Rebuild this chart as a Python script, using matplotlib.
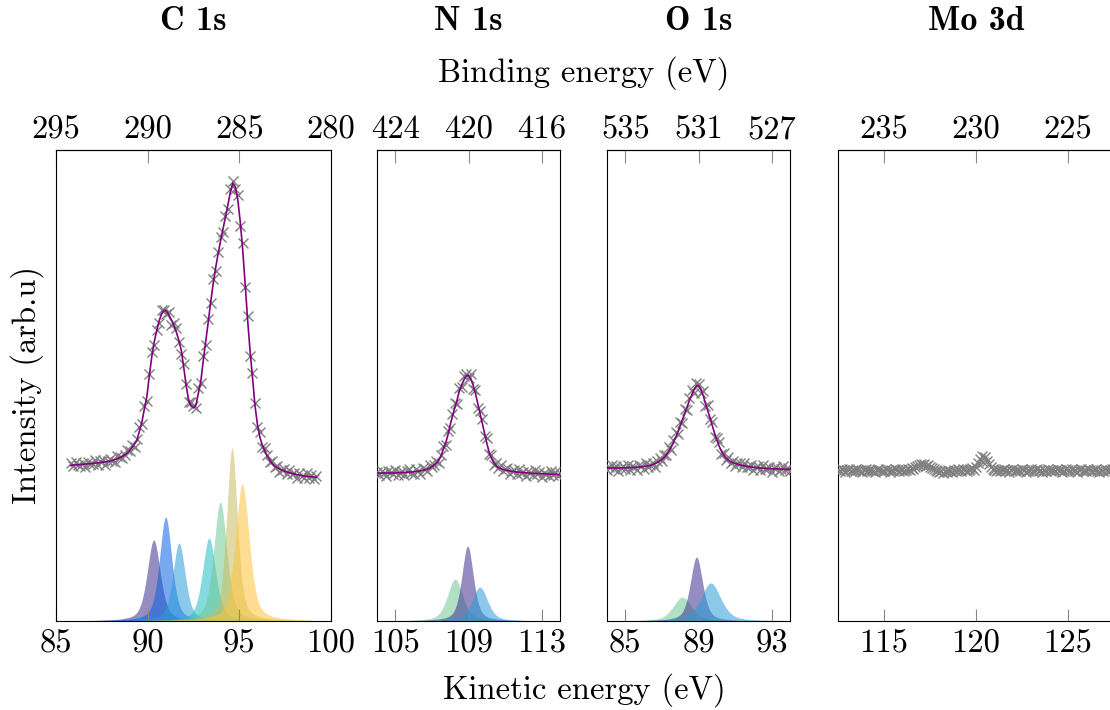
import numpy as np
import matplotlib
matplotlib.use("Agg")
import matplotlib.pyplot as plt

plt.rcParams['font.family'] = ['cmr10', 'DejaVu Serif']
plt.rcParams['axes.unicode_minus'] = False

# ---- C 1s ----
c1s_range = (85.8, 99.2)
c1s_fit = [155.5, 156, 156, 156.3, 156.5, 156.7, 157, 157.2, 157.4, 157.6,
           157.9, 158.2, 158.5, 158.8, 159.1, 159.5, 160, 160.6, 161.3, 162.2,
           163.3, 164.5, 166, 168, 170.5, 173.5, 177, 181, 190, 199,
           212, 224, 245, 264, 279, 290, 300, 307, 310.5, 310,
           306, 301, 296, 289, 281, 271, 254, 236, 221, 215,
           213, 216, 228, 240, 261, 280, 299, 319, 337, 353,
           367, 380, 392, 404, 416, 429, 438, 434, 422, 400,
           372, 338, 302, 271, 244, 216, 197, 184, 176, 170,
           165, 161, 157.5, 155, 153.5, 152, 151, 150, 149, 148.3,
           147.7, 147, 146.5, 146, 145.5, 145, 144.7, 144.4, 144.2, 144,
           143.8]
c1s_data = [158, 155, 159, 156, 155, 158, 154, 159, 157, 157,
            161, 156, 160, 161, 156, 160, 162, 160, 159, 165,
            164, 163, 166, 171, 170, 176, 174, 182, 194, 197,
            215, 220, 247, 269, 276, 291, 298, 311, 311, 307,
            309, 296, 298, 293, 279, 267, 257, 237, 219, 219,
            215, 213, 233, 238, 265, 276, 302, 318, 342, 350,
            369, 384, 389, 405, 412, 432, 440, 432, 426, 395,
            378, 334, 305, 265, 248, 218, 194, 189, 174, 173,
            166, 159, 160, 154, 155, 149, 151, 152, 147, 151,
            147, 148, 143, 148, 145, 143, 148, 143, 146, 142,
            145]
# components: centre (kinetic energy), height, FWHM
c1s_pos = [90.33, 90.98, 91.71, 93.35, 93.96, 94.60, 95.16]
c1s_amp = [81, 104, 78, 83, 119, 173, 137]
c1s_fwhm = [0.85, 0.8, 0.8, 0.85, 0.85, 0.7, 0.9]

# ---- N 1s ----
n1s_range = (104.0, 114.0)
n1s_fit = [148, 148, 148, 148, 148, 148, 148, 148, 148, 148.2,
           148.3, 148.4, 148.6, 148.7, 148.9, 149, 149.2, 149.5, 149.8, 150.2,
           150.6, 151.2, 151.8, 153, 154.5, 156, 157.7, 161, 165, 172,
           178, 186, 196, 205, 213, 221, 230, 236, 241, 245,
           246, 242, 236, 228, 218, 208, 198, 188, 178, 169,
           163, 158.5, 155.5, 153.5, 152.5, 151.7, 151, 150.5, 150, 149.6,
           149.3, 149, 148.8, 148.6, 148.4, 148.2, 148, 147.8, 147.7, 147.6,
           147.5, 147.4, 147.3, 147.2, 147.1, 147, 146.9, 146.8, 146.7, 146.6,
           146.5]
n1s_data = [149, 146, 150, 148, 145, 150, 149, 147, 151, 146,
            148, 150, 146, 150, 152, 148, 147, 152, 150, 147,
            153, 152, 150, 156, 154, 156, 160, 158, 166, 175,
            176, 190, 193, 207, 218, 217, 233, 234, 245, 247,
            243, 247, 232, 231, 213, 210, 202, 185, 183, 167,
            166, 156, 158, 153, 156, 150, 152, 153, 147, 150,
            151, 147, 152, 148, 149, 145, 150, 148, 146, 151,
            147, 149, 144, 148, 147, 145, 150, 146, 149, 145,
            148]
n1s_pos = [108.27, 108.95, 109.62]
n1s_amp = [42, 75, 34]
n1s_fwhm = [1.0, 0.75, 1.0]

# ---- O 1s ----
o1s_range = (84.0, 94.0)
o1s_fit = [153, 153, 153, 153, 153, 153, 153, 153, 153.2, 153.3,
           153.4, 153.5, 153.6, 153.7, 153.9, 154.1, 154.4, 154.7, 155.1, 155.6,
           156.5, 157.4, 158.5, 159.8, 161.5, 163.5, 166.5, 170, 173.5, 178.5,
           183.5, 189, 195.5, 201.5, 207.5, 214, 220.5, 226, 231, 235,
           235.5, 231.5, 226, 218, 210.5, 203.5, 195.5, 188, 181, 175,
           170, 166, 163, 160.7, 159.3, 158.3, 157.5, 156.8, 156.2, 155.6,
           155.1, 154.7, 154.3, 154, 153.7, 153.4, 153.2, 153, 152.8, 152.6,
           152.5, 152.4, 152.3, 152.2, 152.1, 152, 151.9, 151.8, 151.7, 151.6,
           151.5]
o1s_data = [151, 154, 156, 152, 155, 150, 153, 155, 152, 156,
            151, 155, 154, 151, 156, 155, 152, 158, 154, 156,
            158, 154, 160, 163, 160, 166, 166, 174, 171, 181,
            189, 187, 199, 198, 212, 211, 223, 231, 228, 238,
            237, 228, 230, 215, 216, 202, 199, 184, 183, 179,
            167, 168, 161, 164, 158, 160, 155, 158, 158, 154,
            158, 154, 154, 156, 151, 154, 155, 151, 156, 152,
            152, 154, 149, 153, 154, 150, 152, 155, 151, 153,
            150]
o1s_pos = [88.12, 88.89, 89.67]
o1s_amp = [24, 64, 38]
o1s_fwhm = [1.2, 0.8, 1.3]

# ---- Mo 3d ----
mo_range = (112.5, 127.5)
mo_data = [151, 150, 152, 151, 149, 151, 152, 150, 151, 150,
           152, 151, 150, 149, 151, 152, 150, 151, 151, 150,
           149, 151, 152, 151, 150, 150, 152, 151, 149, 151,
           150, 152, 151, 150, 151, 152, 150, 151, 152, 151,
           153, 152, 154, 155, 156, 157, 156, 157, 155, 156, 154, 153, 152,
           151, 150, 149, 150, 148, 150, 149, 151, 150, 149,
           151, 150, 152, 151, 150, 152, 151, 150,
           151, 152, 153, 151, 154, 158, 162,
           165, 159, 164, 160,
           157, 154, 152, 151, 150, 151,
           150, 151, 152, 150, 151, 149, 151, 152, 150, 151,
           151, 150, 152, 151, 149, 150, 151, 152, 150, 151,
           152, 150, 151, 149, 151, 150, 152, 151, 150, 151,
           150, 152, 151, 151, 149, 150, 152, 151, 150, 152,
           151, 150, 149, 151, 152, 150, 151, 150, 152, 151,
           150, 151, 152, 150, 149, 151, 150, 152, 151, 150,
           151, 152, 150]

c1s_cols = ['#3f2f8f', '#0a62e0', '#2c9cd8', '#21bcc3', '#6fc996', '#c8bd60', '#ffc33a']
three_cols = ['#6fc996', '#3f2f8f', '#2c9cd8']

titles = ['C 1s', 'N 1s', 'O 1s', 'Mo 3d']
hv = [380, 529, 620, 350]
kticks = [[85, 90, 95, 100], [105, 109, 113], [85, 89, 93], [115, 120, 125]]
bticks = [[295, 290, 285, 280], [424, 420, 416], [535, 531, 527], [235, 230, 225]]
xlims = [(85, 100), (104, 114), (84, 94), (112.5, 127.5)]


def pvoigt(x, c, h, w, eta=0.5):
    u = 4 * (x - c) ** 2 / w ** 2
    return h * ((1 - eta) * np.exp(-np.log(2) * u) + eta / (1 + u))


def draw_components(ax, x, pos, amp, fwhm, cols):
    for c, h, w, col in zip(pos, amp, fwhm, cols):
        ax.fill_between(x, 0, pvoigt(x, c, h, w), color=col, alpha=0.55, lw=0)


def draw_spectrum(ax, rng, data, fit=None):
    x = np.linspace(rng[0], rng[1], len(data))
    ax.plot(x, data, ls='none', marker='x', ms=7, mew=1.0, color='#808080', zorder=3)
    if fit is not None:
        ax.plot(x, fit, color='#800080', lw=1.2, zorder=4)


fs = 23.5
fig = plt.figure(figsize=(11.1, 7.1), dpi=100)
boxes = [(56, 331), (377, 560), (607, 790), (838, 1114)]
axes = []
for i, (l, r) in enumerate(boxes):
    ax = fig.add_axes([l / 1110, 89 / 710, (r - l) / 1110, 471 / 710])
    ax.set_xlim(*xlims[i])
    ax.set_ylim(0, 471)
    ax.set_yticks([])
    ax.set_xticks(kticks[i])
    ax.tick_params(axis='x', direction='in', length=9, width=0.8, color='#888888',
                   labelsize=fs, pad=6)
    h = hv[i]
    sec = ax.secondary_xaxis('top', functions=(lambda k, h=h: h - k, lambda b, h=h: h - b))
    sec.set_xticks(bticks[i])
    sec.tick_params(direction='in', length=9, width=0.8, color='#888888', labelsize=fs, pad=4)
    fig.text((l + r) / 2 / 1110, 1 - 22 / 710, titles[i], ha='center', va='center',
             fontsize=24.5, family='cmb10')
    axes.append(ax)

draw_components(axes[0], np.linspace(86.0, 99.0, 500), c1s_pos, c1s_amp, c1s_fwhm, c1s_cols)
draw_spectrum(axes[0], c1s_range, c1s_data, c1s_fit)
draw_components(axes[1], np.linspace(104, 114, 400), n1s_pos, n1s_amp, n1s_fwhm, three_cols)
draw_spectrum(axes[1], n1s_range, n1s_data, n1s_fit)
draw_components(axes[2], np.linspace(84, 94, 400), o1s_pos, o1s_amp, o1s_fwhm, three_cols)
draw_spectrum(axes[2], o1s_range, o1s_data, o1s_fit)
draw_spectrum(axes[3], mo_range, mo_data)

fig.text(584 / 1110, 1 - 73 / 710, 'Binding energy (eV)', ha='center', va='center', fontsize=fs)
fig.text(584 / 1110, 1 - 690 / 710, 'Kinetic energy (eV)', ha='center', va='center', fontsize=fs)
fig.text(27 / 1110, 1 - 385 / 710, 'Intensity (arb.u)', ha='center', va='center',
         rotation=90, fontsize=fs)

fig.savefig('out.png', dpi=100)
